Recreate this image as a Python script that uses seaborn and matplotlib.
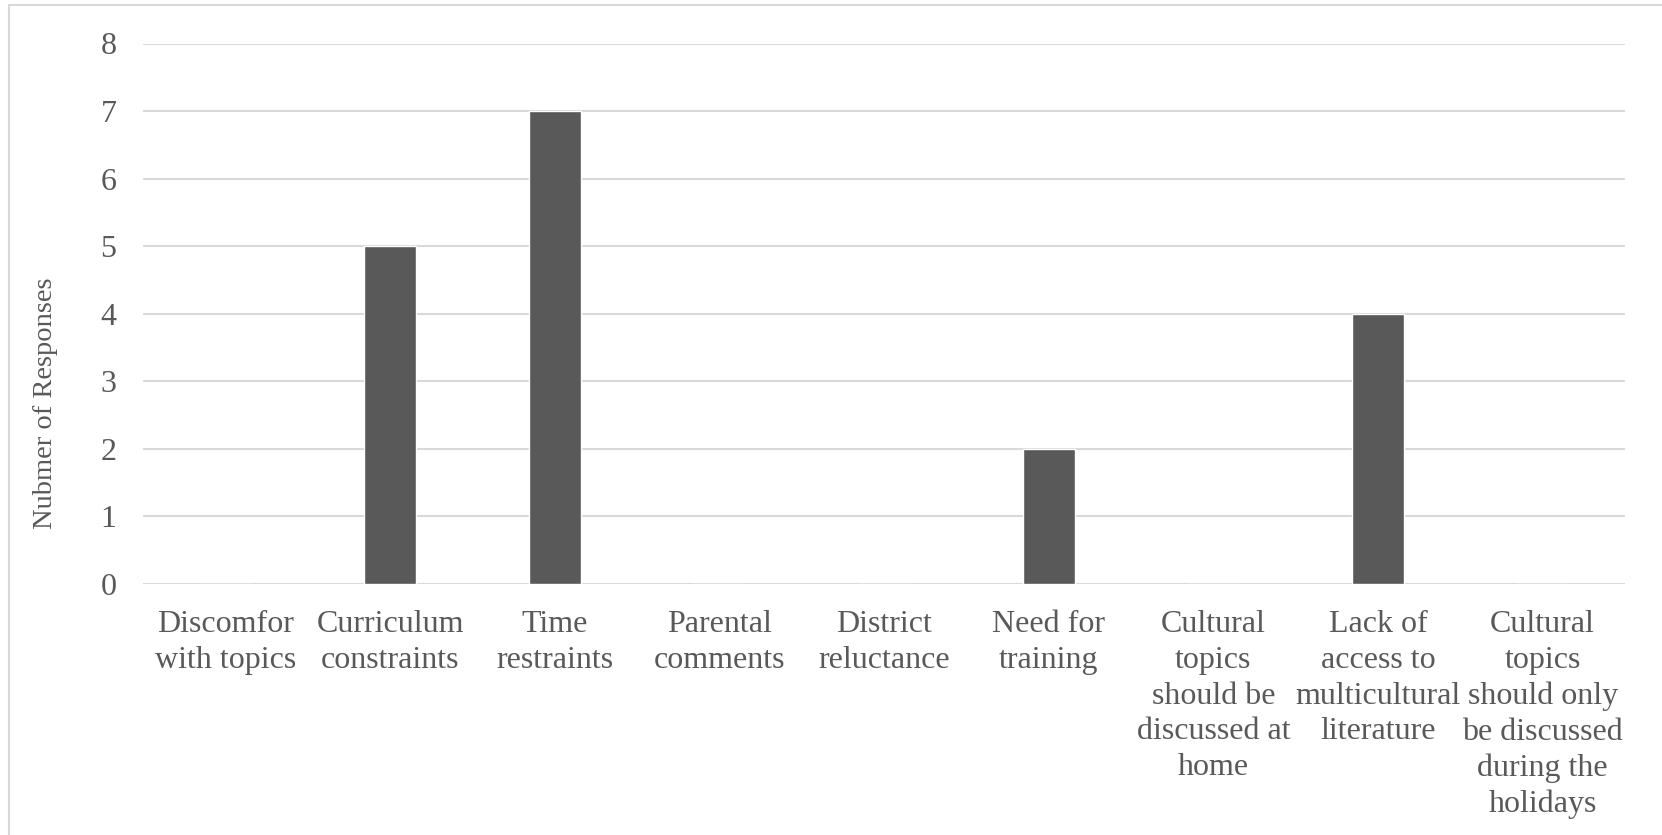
import matplotlib
matplotlib.use("Agg")
import matplotlib.pyplot as plt
from matplotlib.lines import Line2D
import seaborn as sns
import pandas as pd

categories = [
    "Discomfor\nwith topics",
    "Curriculum\nconstraints",
    "Time\nrestraints",
    "Parental\ncomments",
    "District\nreluctance",
    "Need for\ntraining",
    "Cultural\ntopics\nshould be\ndiscussed at\nhome",
    "Lack of\naccess to\nmulticultural\nliterature",
    "Cultural\ntopics\nshould only\nbe discussed\nduring the\nholidays",
]
responses = [0, 5, 7, 0, 0, 2, 0, 4, 0]
y_ticks = [0, 1, 2, 3, 4, 5, 6, 7, 8]

sns.set_theme(style="white")
plt.rcParams["font.family"] = ["Liberation Serif", "DejaVu Serif"]

text_color = "#595959"
grid_color = "#d9d9d9"
bar_color = "#595959"
font_size = 23

df = pd.DataFrame({"category": categories, "responses": responses})

W, H = 1662, 835
fig = plt.figure(figsize=(W / 100, H / 100), dpi=100)
ax = fig.add_axes([143 / W, 1 - 584 / H, (1625 - 143) / W, (584 - 43.5) / H])

sns.barplot(data=df, x="category", y="responses", color=bar_color,
            saturation=1, width=0.316, ax=ax, zorder=3)

ax.set_ylim(0, 8)
ax.set_xlim(-0.5, len(categories) - 0.5)
ax.set_yticks(y_ticks)
ax.yaxis.grid(True, color=grid_color, linewidth=1.5, zorder=0)
ax.xaxis.grid(False)
ax.set_axisbelow(True)
for s in ax.spines.values():
    s.set_visible(False)

ax.tick_params(axis="y", length=0, pad=19, labelsize=font_size, labelcolor=text_color)
ax.tick_params(axis="x", length=0, pad=19, labelsize=font_size, labelcolor=text_color)
for lbl in ax.get_xticklabels():
    lbl.set_linespacing(1.30)

ax.set_xlabel("")
ax.set_ylabel("Nubmer of Responses", fontsize=20.5, color=text_color)
ax.yaxis.label.set_va("center")
ax.yaxis.set_label_coords((45.5 - 143) / (1625 - 143), (584 - 403) / (584 - 43.5))

# light frame lines along the top and left edges of the figure
fig.add_artist(Line2D([9 / W, 1], [1 - 5 / H, 1 - 5 / H],
                      transform=fig.transFigure, color=grid_color, linewidth=1.5))
fig.add_artist(Line2D([9 / W, 9 / W], [0, 1 - 5 / H],
                      transform=fig.transFigure, color=grid_color, linewidth=1.5))

fig.savefig("out.png", dpi=100)
